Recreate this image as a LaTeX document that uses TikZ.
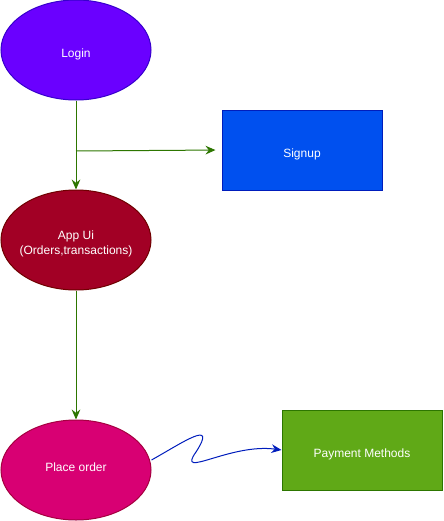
\documentclass[tikz,border=0pt]{standalone}
\usepackage{fontspec}
\setmainfont{Liberation Sans}
\usetikzlibrary{shapes.geometric,arrows.meta}
\definecolor{loginfill}{HTML}{6A00FF}
\definecolor{loginline}{HTML}{3700CC}
\definecolor{signfill}{HTML}{0050EF}
\definecolor{signline}{HTML}{001DBC}
\definecolor{appfill}{HTML}{A20025}
\definecolor{appline}{HTML}{6F0000}
\definecolor{orderfill}{HTML}{D80073}
\definecolor{orderline}{HTML}{A50040}
\definecolor{payfill}{HTML}{60A917}
\definecolor{payline}{HTML}{2D7600}
\definecolor{flowgreen}{HTML}{2D7600}
\definecolor{flowblue}{HTML}{001DBC}

\begin{document}
\begin{tikzpicture}[x=0.75pt, y=-0.75pt,
    every node/.style={font=\fontsize{9}{11}\selectfont, text=white, align=center},
    oval/.style={ellipse, draw, line width=0.75pt, minimum width=112.5pt, minimum height=75pt, inner sep=0pt},
    box/.style={rectangle, draw, line width=0.75pt, minimum width=120pt, minimum height=60pt, inner sep=0pt},
    flow/.style={line width=0.75pt, -{Stealth[length=7.5pt, width=6.5pt, inset=2.5pt]}}]
    \useasboundingbox (0,0) rectangle (443,521);

    % Login
    \node[oval, fill=loginfill, draw=loginline] (login) at (76,50) {};
    \node (logintext) at (76,54) {Login};

    % Signup
    \node[box, fill=signfill, draw=signline] (signup) at (302,150) {};
    \node (signuptext) at (302,154) {Signup};

    % App Ui
    \node[oval, fill=appfill, draw=appline] (appui) at (76,240) {};
    \node (appuitext) at (76,244) {App Ui\\(Orders,transactions)};

    % Place order
    \node[oval, fill=orderfill, draw=orderline] (placeorder) at (76,470) {};
    \node (placeordertext) at (76,467) {Place order};

    % Payment Methods
    \node[box, fill=payfill, draw=payline] (payment) at (362,450) {};
    \node (paymenttext) at (362,454) {Payment Methods};

    % Arrows
    \coordinate (split) at (76,151);
    \draw[flow, flowgreen] (login) -- (appui);
    \draw[flow, flowgreen, shorten >=4.5pt] (split) -- (signup.west);
    \draw[flow, flowgreen] (appui) -- (placeorder);
    \draw[flow, flowblue] (placeorder.east) ++(0,-10) .. controls (182,443) and (218,418) .. (196,452)
        .. controls (176,480) and (230,443) .. (payment.west);
\end{tikzpicture}
\end{document}
